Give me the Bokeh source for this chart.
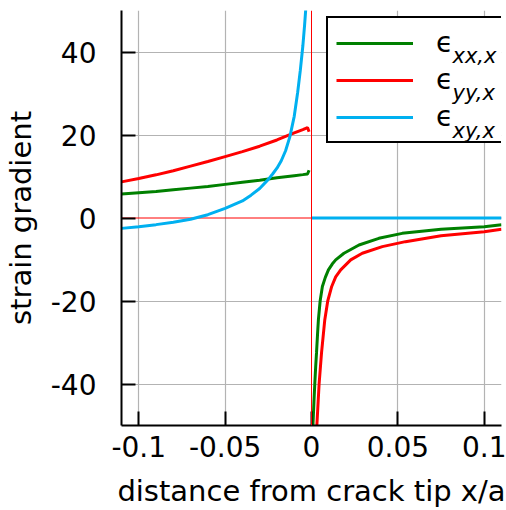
from bokeh.plotting import figure
from bokeh.models import Span, Label, Legend, LegendItem, FixedTicker, Range1d, BoxAnnotation
from bokeh.core.properties import value
from bokeh.embed import file_html
from bokeh.resources import INLINE

# ---- data ----
x_neg = [-0.11, -0.10, -0.09, -0.08, -0.07, -0.06, -0.05, -0.04, -0.03, -0.02, -0.01, -0.005, -0.0023, -0.0014]
exx_neg = [5.8, 6.1, 6.4, 6.8, 7.2, 7.6, 8.1, 8.6, 9.1, 9.7, 10.2, 10.45, 10.6, 11.5]
eyy_neg = [8.7, 9.5, 10.4, 11.4, 12.5, 13.6, 14.8, 16.0, 17.3, 18.8, 20.5, 21.3, 21.8, 20.8]

x_exy_neg = [-0.11, -0.10, -0.09, -0.08, -0.07, -0.06, -0.05, -0.04, -0.035, -0.03, -0.025, -0.0225,
             -0.02, -0.0175, -0.015, -0.0125, -0.01, -0.008, -0.0065, -0.005, -0.004, -0.0033, -0.0025]
exy_neg = [-2.5, -2.1, -1.6, -1.0, -0.3, 0.8, 2.3, 4.1, 5.5, 7.1, 9.3, 10.6,
           12.0, 13.8, 16.2, 19.6, 24.5, 30.3, 35.5, 41.5, 46.5, 50.5, 57.0]

x_exx_pos = [0.0006, 0.0009, 0.0014, 0.0019, 0.0024, 0.0029, 0.0035, 0.004, 0.005, 0.0063, 0.008,
             0.0098, 0.012, 0.014, 0.0188, 0.0275, 0.039, 0.0525, 0.075, 0.1, 0.11]
exx_pos = [-60.0, -49.3, -44.5, -40.0, -36.0, -32.5, -28.0, -24.5, -20.0, -16.5, -14.3,
           -12.5, -11.1, -10.1, -8.5, -6.5, -4.9, -3.7, -2.7, -2.1, -1.6]

x_eyy_pos = [0.0025, 0.0031, 0.0044, 0.0058, 0.0077, 0.0094, 0.0117, 0.014, 0.0169, 0.0227,
             0.0294, 0.041, 0.0544, 0.075, 0.1, 0.11]
eyy_pos = [-60.0, -50.0, -40.0, -32.5, -24.5, -20.0, -16.5, -14.2, -12.5, -10.1,
           -8.5, -6.9, -5.7, -4.3, -3.3, -2.7]

x_exy_pos = [0.0, 0.11]
exy_pos = [0.0, 0.0]

x_ticks = [-0.1, -0.05, 0, 0.05, 0.1]
x_tick_labels = ["-0.1", "-0.05", "0", "0.05", "0.1"]
y_ticks = [-40, -20, 0, 20, 40]
y_tick_labels = ["-40", "-20", "0", "20", "40"]

legend_symbol = "ϵ"
legend_subscripts = ["xx,x", "yy,x", "xy,x"]
colors = ["#008000", "#ff0000", "#00b0f0"]
y_label = "strain gradient"
x_label = "distance from crack tip x/a"

FONT = "DejaVu Sans"

p = figure(width=506, height=510, output_backend="svg", toolbar_location=None,
           x_range=Range1d(-0.11, 0.11), y_range=Range1d(-50, 50),
           min_border_left=120, min_border_right=5, min_border_top=10, min_border_bottom=84)
p.outline_line_color = None
p.background_fill_color = "white"
p.border_fill_color = "white"

p.xaxis.ticker = FixedTicker(ticks=x_ticks)
p.yaxis.ticker = FixedTicker(ticks=y_ticks)
p.xaxis.major_label_overrides = dict(zip(x_ticks, x_tick_labels))
p.yaxis.major_label_overrides = dict(zip(y_ticks, y_tick_labels))
# the zero lines are drawn in red below, so the grey grid skips them
p.xgrid.ticker = FixedTicker(ticks=[t for t in x_ticks if t != 0])
p.ygrid.ticker = FixedTicker(ticks=[t for t in y_ticks if t != 0])
p.grid.grid_line_color = "#b3b3b3"
p.grid.grid_line_width = 1.2

for ax in (p.xaxis[0], p.yaxis[0]):
    ax.axis_line_width = 2
    ax.axis_line_color = "black"
    ax.major_tick_line_width = 2
    ax.major_tick_line_color = "black"
    ax.major_tick_in = 14
    ax.major_tick_out = 0
    ax.minor_tick_line_color = None
    ax.major_label_text_font = FONT
    ax.major_label_text_font_size = "28px"
    ax.major_label_text_color = "black"
    ax.axis_label_text_font = FONT
    ax.axis_label_text_font_size = "29px"
    ax.axis_label_text_font_style = "normal"
    ax.axis_label_text_color = "black"

p.xaxis.major_label_standoff = 10
p.yaxis.major_label_standoff = 25
p.yaxis.axis_label = y_label
p.yaxis.axis_label_standoff = 10
p.xaxis.axis_label = x_label
p.xaxis.axis_label_standoff = 14

p.add_layout(Span(location=0, dimension="width", line_color="red", line_width=1, level="underlay"))

r_xx = p.line(x_neg, exx_neg, line_color=colors[0], line_width=3)
p.line(x_exx_pos, exx_pos, line_color=colors[0], line_width=3)
r_yy = p.line(x_neg, eyy_neg, line_color=colors[1], line_width=3)
p.line(x_eyy_pos, eyy_pos, line_color=colors[1], line_width=3)
r_xy = p.line(x_exy_neg, exy_neg, line_color=colors[2], line_width=3)
p.line(x_exy_pos, exy_pos, line_color=colors[2], line_width=3)

p.add_layout(Span(location=0, dimension="height", line_color="red", line_width=1, level="annotation"))

# white panel behind the legend (the legend itself is transparent so the subscripts show)
p.add_layout(BoxAnnotation(left=205, right=382, bottom=283, top=409,
                           left_units="screen", right_units="screen",
                           bottom_units="screen", top_units="screen",
                           fill_color="white", fill_alpha=1.0, line_color=None,
                           level="annotation"))

legend = Legend(items=[LegendItem(label=value(legend_symbol), renderers=[r]) for r in (r_xx, r_yy, r_xy)],
                location=(205, 282), border_line_color="black", border_line_width=2,
                border_line_alpha=1.0,
                background_fill_color="white", background_fill_alpha=0.0,
                padding=8, spacing=4, glyph_width=77, glyph_height=24,
                label_standoff=23, label_width=60, label_height=24,
                label_text_font=FONT, label_text_font_size="28px", label_text_color="black",
                margin=0)
p.add_layout(legend)

for i, sub in enumerate(legend_subscripts):
    p.add_layout(Label(x=331, y=370 - 37.5 * i, x_units="screen", y_units="screen",
                       text=sub, text_font=FONT, text_font_size="21px",
                       text_font_style="italic", text_baseline="alphabetic", text_color="black",
                       level="overlay"))

open("out.html", "w").write(file_html(p, INLINE))
